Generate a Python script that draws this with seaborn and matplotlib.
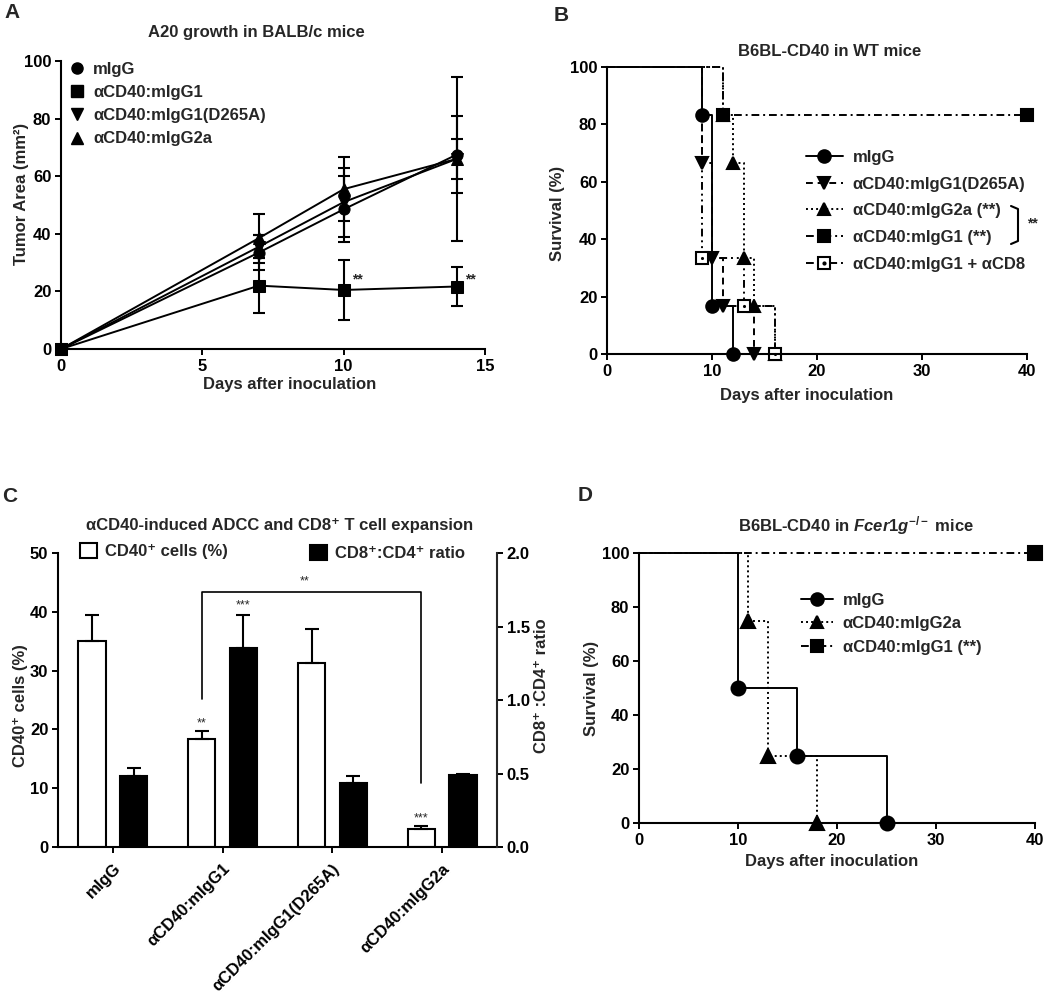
import numpy as np
import pandas as pd
import matplotlib
matplotlib.use("Agg")
import matplotlib.pyplot as plt
import seaborn as sns
from matplotlib.lines import Line2D
from matplotlib.patches import Patch

# ---------------- data ----------------
# Panel A: tumor area (mm^2)
a_days = [0, 7, 10, 14]
a_migg = [0, 33.5, 48.5, 67.5]
a_migg_err = [0, 6, 11.5, 13.5]
a_g1 = [0, 22, 20.5, 21.7]
a_g1_err = [0, 9.5, 10.5, 6.6]
a_d265a = [0, 35.5, 51, 66]
a_d265a_err = [0, 4, 12, 7]
a_g2a = [0, 38.5, 55.5, 66]
a_g2a_err = [0, 8.5, 11, 28.4]
a_labels = ["mIgG", "αCD40:mIgG1", "αCD40:mIgG1(D265A)", "αCD40:mIgG2a"]

# Panel B: survival, WT mice
b_migg_t = [0, 9, 10, 12]
b_migg_s = [100, 83.3, 16.7, 0]
b_d265a_t = [0, 9, 10, 11, 14]
b_d265a_s = [100, 66.7, 33.3, 16.7, 0]
b_g2a_t = [0, 11, 12, 13, 14, 16]
b_g2a_s = [100, 83.3, 66.7, 33.3, 16.7, 0]
b_g1_t = [0, 11, 40]
b_g1_s = [100, 83.3, 83.3]
b_cd8_t = [0, 9, 13, 16]
b_cd8_s = [100, 33.3, 16.7, 0]
b_labels = ["mIgG", "αCD40:mIgG1(D265A)", "αCD40:mIgG2a (**)",
            "αCD40:mIgG1 (**)", "αCD40:mIgG1 + αCD8"]

# Panel C: bars
c_groups = ["mIgG", "αCD40:mIgG1", "αCD40:mIgG1(D265A)", "αCD40:mIgG2a"]
c_cd40 = [35.0, 18.4, 31.3, 3.1]
c_cd40_err = [4.4, 1.3, 5.8, 0.4]
c_ratio = [0.485, 1.354, 0.435, 0.488]
c_ratio_err = [0.055, 0.222, 0.045, 0.009]

# Panel D: survival, Fcer1g-/- mice
d_migg_t = [0, 10, 16, 25]
d_migg_s = [100, 50, 25, 0]
d_g2a_t = [0, 11, 13, 18]
d_g2a_s = [100, 75, 25, 0]
d_g1_t = [0, 40]
d_g1_s = [100, 100]
d_labels = ["mIgG", "αCD40:mIgG2a", "αCD40:mIgG1 (**)"]

# ---------------- style ----------------
sns.set_style("ticks")
plt.rcParams["font.family"] = ["Liberation Sans", "DejaVu Sans"]
plt.rcParams["font.weight"] = "bold"
plt.rcParams["axes.labelweight"] = "bold"
plt.rcParams["font.size"] = 12
plt.rcParams["mathtext.fontset"] = "custom"
plt.rcParams["mathtext.rm"] = "Liberation Sans:bold"
plt.rcParams["mathtext.it"] = "Liberation Sans:italic:bold"
plt.rcParams["mathtext.bf"] = "Liberation Sans:bold"

W, H = 1050, 997
fig = plt.figure(figsize=(W / 100, H / 100), dpi=100)
fig.patch.set_facecolor("white")

LW = 1.4
FS = 12


def px_ax(l, r, t, b):
    return fig.add_axes([l / W, 1 - b / H, (r - l) / W, (b - t) / H])


def fxy(x, y):
    return (x / W, 1 - y / H)


def style_ax(ax):
    for s in ["top", "right"]:
        ax.spines[s].set_visible(False)
    for s in ["left", "bottom"]:
        ax.spines[s].set_linewidth(1.5)
        ax.spines[s].set_color("k")
    ax.tick_params(direction="out", length=4, width=1.4, colors="k",
                   labelsize=FS, pad=3)
    for lab in ax.get_xticklabels() + ax.get_yticklabels():
        lab.set_fontweight("bold")


def set_labels(ax, xl, yl, xpos, ypos):
    ax.set_xlabel(xl, fontsize=FS, fontweight="bold", va="center")
    ax.set_ylabel(yl, fontsize=FS, fontweight="bold", va="center")
    ax.xaxis.set_label_coords(*xpos)
    ax.yaxis.set_label_coords(*ypos)


STYLE_DASH = (0, (3.5, 2.5))
STYLE_DOT = (0, (1, 1.6))
STYLE_DASHDOT = (0, (4, 2, 1, 2))
STYLE_DASHDOTDOT = (0, (4, 2, 1, 2, 1, 2))

# ---------------- Panel A ----------------
axA = px_ax(61, 485, 61, 349)
series_a = [(a_migg, a_migg_err, "o"), (a_g1, a_g1_err, "s"),
            (a_d265a, a_d265a_err, "v"), (a_g2a, a_g2a_err, "^")]
for vals, errs, m in series_a:
    axA.errorbar(a_days, vals, yerr=errs, fmt="none", ecolor="k",
                 elinewidth=1.5, capsize=4, capthick=1.5, clip_on=False)
    sns.lineplot(x=a_days, y=vals, ax=axA, color="k", lw=LW, marker=m,
                 markersize=8, markeredgecolor="k", markerfacecolor="k",
                 estimator=None, sort=False, clip_on=False)
axA.set_xlim(0, 15)
axA.set_ylim(0, 100)
axA.set_xticks([0, 5, 10, 15])
axA.set_yticks([0, 20, 40, 60, 80, 100])
style_ax(axA)
set_labels(axA, "Days after inoculation", "Tumor Area (mm²)",
           (0.54, -0.125), (-0.094, 0.54))
axA.text(10.3, 24, "**", fontsize=10, ha="left", va="center")
axA.text(14.3, 24, "**", fontsize=10, ha="left", va="center")
hA = [Line2D([], [], ls="none", marker=m, color="k", markersize=8)
      for m in ["o", "s", "v", "^"]]
axA.legend(hA, a_labels, loc="upper left", bbox_to_anchor=fxy(69, 62),
           bbox_transform=fig.transFigure, frameon=False, handlelength=1,
           handletextpad=0.45, labelspacing=0.49, borderaxespad=0,
           borderpad=0, prop={"weight": "bold", "size": FS})
fig.text(*fxy(256, 32), "A20 growth in BALB/c mice", ha="center",
         va="center", fontsize=FS, fontweight="bold")


# ---------------- survival helper ----------------
def km(ax, t, s, m, ls, fc="k", ms=9, dot=False):
    sns.lineplot(x=t, y=s, ax=ax, drawstyle="steps-post", color="k",
                 linestyle=ls, lw=LW, marker=m,
                 markevery=list(range(1, len(t))), markersize=ms,
                 markeredgecolor="k", markerfacecolor=fc,
                 markeredgewidth=1.5, estimator=None, sort=False,
                 clip_on=False)
    if dot:
        sns.scatterplot(x=t[1:], y=s[1:], ax=ax, marker="o", s=5,
                        color="k", edgecolor="k", linewidth=0, clip_on=False,
                        zorder=5)


# ---------------- Panel B ----------------
axB = px_ax(607, 1027, 67, 354)
km(axB, b_migg_t, b_migg_s, "o", "-")
km(axB, b_d265a_t, b_d265a_s, "v", STYLE_DASH)
km(axB, b_g2a_t, b_g2a_s, "^", STYLE_DOT)
km(axB, b_g1_t, b_g1_s, "s", STYLE_DASHDOT)
km(axB, b_cd8_t, b_cd8_s, "s", STYLE_DASHDOTDOT, fc="white", dot=True)
axB.set_xlim(0, 40)
axB.set_ylim(0, 100)
axB.set_xticks([0, 10, 20, 30, 40])
axB.set_yticks([0, 20, 40, 60, 80, 100])
style_ax(axB)
set_labels(axB, "Days after inoculation", "Survival (%)",
           (0.476, -0.143), (-0.119, 0.49))
fig.text(*fxy(830, 52), "B6BL-CD40 in WT mice", ha="center", va="center",
         fontsize=FS, fontweight="bold")


def km_handle(m, ls, fc="k", dot=False):
    h = Line2D([], [], color="k", ls=ls, lw=LW, marker=m, markersize=9,
               markerfacecolor=fc, markeredgecolor="k", markeredgewidth=1.5)
    if dot:
        return (h, Line2D([], [], ls="none", marker="o", markersize=2,
                          color="k"))
    return h


hB = [km_handle("o", "-"), km_handle("v", STYLE_DASH),
      km_handle("^", STYLE_DOT), km_handle("s", STYLE_DASHDOT),
      km_handle("s", STYLE_DASHDOTDOT, fc="white", dot=True)]
axB.legend(hB, b_labels, loc="upper left", bbox_to_anchor=fxy(806, 150),
           bbox_transform=fig.transFigure, frameon=False, handlelength=2.2,
           handletextpad=0.6, labelspacing=0.7, borderaxespad=0,
           borderpad=0, prop={"weight": "bold", "size": FS})
# bracket
bx = [1011, 1018, 1018, 1011]
by = [206, 209, 241, 244]
fig.add_artist(Line2D([x / W for x in bx], [1 - y / H for y in by],
                      color="k", lw=1.5, transform=fig.transFigure))
fig.text(*fxy(1032, 223), "**", fontsize=10, ha="center", va="center")

# ---------------- Panel C ----------------
axC = px_ax(58, 497, 553, 847)
axC2 = axC.twinx()
xpos = np.arange(len(c_groups))
off = 0.19
dfw = pd.DataFrame({"x": xpos - off, "y": c_cd40})
dfb = pd.DataFrame({"x": xpos + off, "y": c_ratio})
sns.barplot(data=dfw, x="x", y="y", native_scale=True, width=0.25,
            color="white", edgecolor="k", linewidth=1.5, saturation=1,
            errorbar=None, ax=axC)
sns.barplot(data=dfb, x="x", y="y", native_scale=True, width=0.25,
            color="black", edgecolor="k", linewidth=1.5, saturation=1,
            errorbar=None, ax=axC2)
axC.errorbar(xpos - off, c_cd40, yerr=[np.zeros(4), c_cd40_err], fmt="none",
             ecolor="k", elinewidth=1.5, capsize=5, capthick=1.5)
axC2.errorbar(xpos + off, c_ratio, yerr=[np.zeros(4), c_ratio_err],
              fmt="none", ecolor="k", elinewidth=1.5, capsize=5, capthick=1.5)
axC.set_xlim(-0.5, 3.5)
axC.set_ylim(0, 50)
axC2.set_ylim(0, 2.0)
axC.set_yticks([0, 10, 20, 30, 40, 50])
axC2.set_yticks([0.0, 0.5, 1.0, 1.5, 2.0])
axC2.set_yticklabels(["0.0", "0.5", "1.0", "1.5", "2.0"])
axC.set_xticks(xpos)
axC.set_xticklabels(c_groups, rotation=45, ha="right",
                    rotation_mode="anchor")
style_ax(axC)
for s in ["top", "left", "bottom"]:
    axC2.spines[s].set_visible(False)
axC2.spines["right"].set_visible(True)
axC2.spines["right"].set_linewidth(1.5)
axC2.tick_params(direction="out", length=4, width=1.4, colors="k",
                 labelsize=FS, pad=3)
for lab in axC2.get_yticklabels():
    lab.set_fontweight("bold")
axC.tick_params(axis="x", pad=6)
axC.set_xlabel("")
axC.set_ylabel("CD40⁺ cells (%)", fontsize=FS, fontweight="bold",
               va="center")
axC.yaxis.set_label_coords(-0.085, 0.48)
axC2.set_xlabel("")
axC2.set_ylabel("CD8⁺ :CD4⁺ ratio", fontsize=FS, fontweight="bold",
                va="center", rotation=90)
axC2.yaxis.set_label_coords((542 - 58) / 439, 0.55)
# significance
axC.plot([0.81, 0.81, 2.81, 2.81], [25.1, 43.4, 43.4, 10.9], color="k",
         lw=1.2)
axC.text(1.75, 44.2, "**", fontsize=9, fontweight="normal", ha="center",
         va="bottom")
axC.text(0.81, 20.0, "**", fontsize=9, fontweight="normal", ha="center",
         va="bottom")
axC.text(1.19, 40.0, "***", fontsize=9, fontweight="normal", ha="center",
         va="bottom")
axC.text(2.81, 3.8, "***", fontsize=9, fontweight="normal", ha="center",
         va="bottom")
fig.legend([Patch(facecolor="white", edgecolor="k", linewidth=1.5)],
           ["CD40⁺ cells (%)"], loc="center left",
           bbox_to_anchor=fxy(80, 551), frameon=False, handlelength=1,
           handleheight=1, handletextpad=0.5, borderaxespad=0, borderpad=0,
           prop={"weight": "bold", "size": FS})
fig.legend([Patch(facecolor="black", edgecolor="k", linewidth=1.5)],
           ["CD8⁺:CD4⁺ ratio"], loc="center left",
           bbox_to_anchor=fxy(310, 553), frameon=False, handlelength=1,
           handleheight=1, handletextpad=0.5, borderaxespad=0, borderpad=0,
           prop={"weight": "bold", "size": FS})
fig.text(*fxy(280, 525), "αCD40-induced ADCC and CD8⁺ T cell expansion",
         ha="center", va="center", fontsize=FS, fontweight="bold")

# ---------------- Panel D ----------------
axD = px_ax(639, 1035, 553, 823)
km(axD, d_migg_t, d_migg_s, "o", "-", ms=10)
km(axD, d_g2a_t, d_g2a_s, "^", STYLE_DOT, ms=10)
km(axD, d_g1_t, d_g1_s, "s", STYLE_DASHDOT, ms=10)
axD.set_xlim(0, 40)
axD.set_ylim(0, 100)
axD.set_xticks([0, 10, 20, 30, 40])
axD.set_yticks([0, 20, 40, 60, 80, 100])
style_ax(axD)
set_labels(axD, "Days after inoculation", "Survival (%)",
           (0.487, -0.144), (-0.119, 0.5))
hD = [km_handle("o", "-"), km_handle("^", STYLE_DOT),
      km_handle("s", STYLE_DASHDOT)]
axD.legend(hD, d_labels, loc="upper left", bbox_to_anchor=fxy(801, 593),
           bbox_transform=fig.transFigure, frameon=False, handlelength=1.9,
           handletextpad=0.6, labelspacing=0.5, borderaxespad=0,
           borderpad=0, prop={"weight": "bold", "size": FS})
fig.text(*fxy(856, 526), r"B6BL-CD40 in $\mathit{Fcer1g}^{-/-}$ mice",
         ha="center", va="center", fontsize=FS, fontweight="bold")

# ---------------- panel letters ----------------
for letter, (x, y) in zip("ABCD", [(4, 3), (554, 6), (2, 487), (578, 486)]):
    fig.text(*fxy(x, y), letter, ha="left", va="top", fontsize=15,
             fontweight="bold")

fig.savefig("out.png", dpi=100, facecolor="white")
